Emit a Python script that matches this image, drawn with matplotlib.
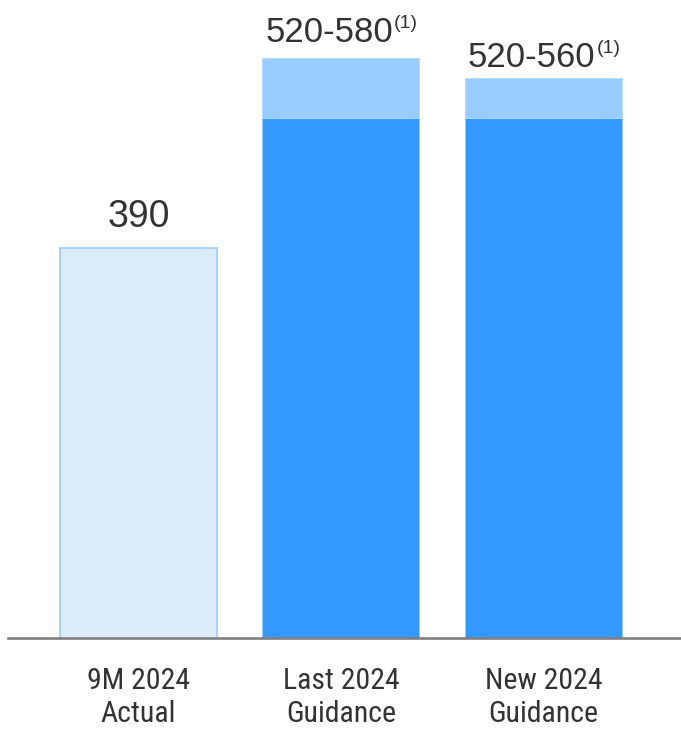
import matplotlib
matplotlib.use("Agg")
import matplotlib.pyplot as plt
from matplotlib import font_manager
from matplotlib.transforms import offset_copy

plt.rcParams['font.family'] = ['Liberation Sans', 'DejaVu Sans']

categories = ["9M 2024\nActual", "Last 2024\nGuidance", "New 2024\nGuidance"]
actual = [390, 0, 0]
guide_low = [0, 520, 520]
guide_high = [0, 580, 560]
value_labels = ["390", "520-580", "520-560"]
footnotes = ["", "(1)", "(1)"]

# narrow face for the category labels, whichever one is installed
names = {f.name for f in font_manager.fontManager.ttflist}
narrow = None
for cand in ["Liberation Sans Narrow", "Roboto Condensed", "Open Sans Condensed",
             "Noto Sans Condensed", "DejaVu Sans Condensed"]:
    if cand in names:
        narrow = cand
        break
condensed_dejavu = any(f.name == "DejaVu Sans" and f.stretch == "condensed"
                       for f in font_manager.fontManager.ttflist)

fig = plt.figure(figsize=(6.81, 7.30), dpi=100)
ax = fig.add_axes([8 / 681, 92 / 730, 673 / 681, 638 / 730])

x = range(len(categories))
width = 0.775
top_part = [h - l for h, l in zip(guide_high, guide_low)]

ax.bar(x, actual, width=width, color="#DCEBFA", edgecolor="#99CCFF", linewidth=1.2, zorder=2)
ax.bar(x, guide_low, width=width, color="#3399FF", edgecolor="#99CCFF", linewidth=0.6, zorder=2)
ax.bar(x, top_part, bottom=guide_low, width=width, color="#99CCFF", edgecolor="#B3D9FF",
       linewidth=0.6, zorder=2)

ax.set_xlim(-0.644, 2.679)
ax.set_ylim(0, 638)
ax.axhline(0, color="#808080", linewidth=1.9, zorder=3, clip_on=False)

for s in ax.spines.values():
    s.set_visible(False)
ax.set_yticks([])
ax.set_xticks(list(x))
if narrow:
    tick_font = dict(family=[narrow, 'DejaVu Sans'])
elif condensed_dejavu:
    tick_font = dict(family=['DejaVu Sans'], stretch='condensed')
else:
    tick_font = dict(family=['Liberation Sans', 'DejaVu Sans'])
ax.set_xticklabels(categories, fontsize=21.5, color="#333333", linespacing=1.2, **tick_font)
ax.tick_params(axis="x", length=0, pad=21)

# value labels above each bar, with a raised footnote marker on the guidance ranges
label_pad = [21, 16, 11]
label_size = [27, 25, 25]
fig.canvas.draw()
renderer = fig.canvas.get_renderer()
for i in x:
    top = max(actual[i], guide_high[i])
    t = ax.text(i, top + label_pad[i], value_labels[i], ha="center", va="baseline",
                fontsize=label_size[i], color="#333333")
    if footnotes[i]:
        sup = ax.text(i, top + label_pad[i], footnotes[i], ha="left", va="baseline",
                      fontsize=14, color="#333333")
        w1 = t.get_window_extent(renderer).width
        w2 = sup.get_window_extent(renderer).width
        shift = w2 / 2
        t.set_transform(offset_copy(ax.transData, fig, x=-shift * 72 / fig.dpi,
                                    y=0, units="points"))
        sup.set_transform(offset_copy(ax.transData, fig,
                                      x=(w1 / 2 - shift + 1) * 72 / fig.dpi,
                                      y=10, units="points"))

fig.savefig("out.png", dpi=100)
